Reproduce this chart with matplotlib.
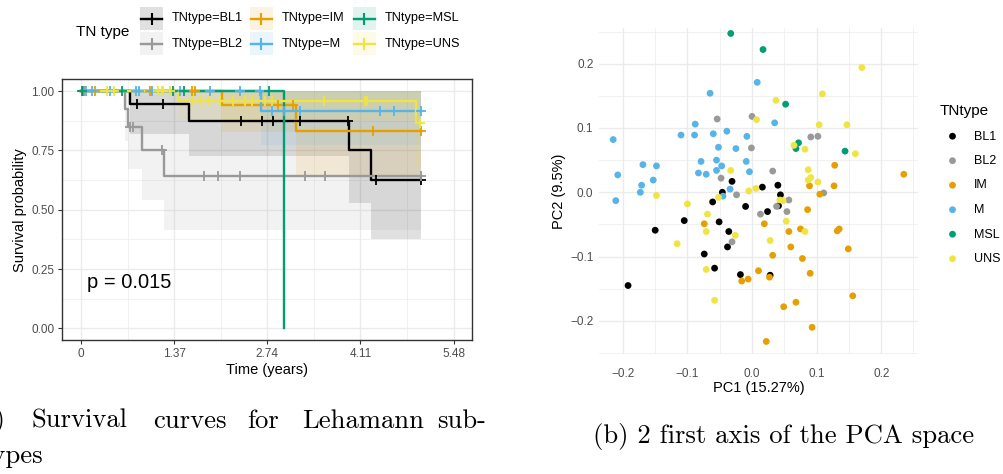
import matplotlib
matplotlib.use('Agg')
import matplotlib.pyplot as plt
import numpy as np
from matplotlib.lines import Line2D
from matplotlib.patches import Rectangle
from matplotlib.ticker import FixedLocator

plt.rcParams['font.family'] = ['Liberation Sans', 'DejaVu Sans']

# ---------------- data ----------------
groups = ['BL1', 'BL2', 'IM', 'M', 'MSL', 'UNS']
colors = ['#000000', '#999999', '#E69F00', '#56B4E9', '#009E73', '#F0E442']

# Kaplan-Meier curves (event times, survival after each time, lower CI)
bl1_time = [0, 0.72, 1.585, 3.94, 4.26]
bl1_surv = [1.0, 0.944, 0.875, 0.751, 0.626]
bl1_lower = [1.0, 0.82, 0.725, 0.528, 0.377]
bl1_end = 5.00
bl1_cens = [0.03, 0.82, 1.20, 2.35, 2.66, 2.83, 3.22, 3.93, 4.34, 5.00]

bl2_time = [0, 0.647, 0.687, 0.893, 1.22]
bl2_surv = [1.0, 0.923, 0.847, 0.752, 0.643]
bl2_lower = [1.0, 0.79, 0.672, 0.542, 0.413]
bl2_end = 5.00
bl2_cens = [0.05, 0.72, 0.77, 1.19, 1.81, 2.02, 2.34, 3.30, 3.59, 5.00]

im_time = [0, 2.07, 3.16]
im_surv = [1.0, 0.941, 0.833]
im_lower = [1.0, 0.829, 0.647]
im_end = 5.00
im_cens = [0.21, 1.02, 1.63, 1.68, 2.90, 3.12, 4.30, 5.00]

m_time = [0, 2.65]
m_surv = [1.0, 0.917]
m_lower = [1.0, 0.773]
m_end = 5.00
m_cens = [0.08, 0.16, 0.43, 0.81, 0.86, 1.05, 1.46, 1.90, 2.34, 2.63,
          2.81, 2.98, 3.22, 4.40, 4.61, 5.00]

msl_time = [0, 2.99]
msl_surv = [1.0, 0.0]
msl_lower = [1.0, 0.0]
msl_end = 2.99
msl_cens = [0.01, 0.60, 1.36, 1.51, 2.76]

uns_time = [0, 1.43, 4.93]
uns_surv = [1.0, 0.958, 0.864]
uns_lower = [1.0, 0.881, 0.68]
uns_end = 4.99
uns_cens = [0.38, 0.48, 1.14, 1.19, 1.21, 1.31, 1.63, 1.75, 1.87, 2.05,
            2.24, 2.41, 2.51, 2.71, 2.81, 3.58, 4.18, 4.20, 4.99]

km = {
    'BL1': (bl1_time, bl1_surv, bl1_lower, bl1_end, bl1_cens),
    'BL2': (bl2_time, bl2_surv, bl2_lower, bl2_end, bl2_cens),
    'IM': (im_time, im_surv, im_lower, im_end, im_cens),
    'M': (m_time, m_surv, m_lower, m_end, m_cens),
    'MSL': (msl_time, msl_surv, msl_lower, msl_end, msl_cens),
    'UNS': (uns_time, uns_surv, uns_lower, uns_end, uns_cens),
}

time_ticks = [0, 1.37, 2.74, 4.11, 5.48]
time_labels = ['0', '1.37', '2.74', '4.11', '5.48']
surv_ticks = [0.0, 0.25, 0.5, 0.75, 1.0]
p_value_text = 'p = 0.015'

# PCA scores
bl1_pc1 = [-0.031, -0.046, 0.016, 0.040, 0.044, 0.041, -0.010, 0.024, 0.028, -0.018,
           -0.061, -0.105, -0.051, -0.150, -0.036, -0.038, -0.074, -0.058, -0.192]
bl1_pc2 = [0.017, 0.000, 0.008, 0.011, -0.004, -0.021, -0.022, -0.030, -0.129, -0.128,
           -0.015, -0.044, -0.046, -0.059, -0.061, -0.085, -0.096, -0.118, -0.145]
bl2_pc1 = [-0.054, -0.048, -0.024, -0.000, 0.091, 0.102, -0.001, 0.032, 0.111, 0.057,
           0.038, 0.013, 0.054, -0.031]
bl2_pc2 = [0.114, 0.022, -0.004, 0.118, 0.086, 0.087, 0.069, 0.033, -0.001, -0.012,
           -0.022, -0.034, -0.030, -0.077]
im_pc1 = [0.128, 0.235, 0.089, 0.127, 0.105, 0.086, 0.019, 0.057, 0.075, 0.132,
          0.135, 0.060, 0.149, 0.032, 0.078, 0.010, 0.090, 0.027, -0.006, -0.016,
          0.156, 0.068, 0.049, 0.093, 0.022, -0.074]
im_pc2 = [0.042, 0.028, 0.010, 0.010, -0.003, -0.027, -0.049, -0.061, -0.057, -0.060,
          -0.057, -0.085, -0.088, -0.098, -0.103, -0.122, -0.126, -0.132, -0.135, -0.138,
          -0.161, -0.171, -0.178, -0.210, -0.232, -0.049]
m_pc1 = [-0.065, -0.215, -0.208, -0.169, -0.148, -0.171, -0.153, -0.173, -0.211, -0.110,
         -0.088, -0.089, -0.060, -0.039, -0.052, -0.025, -0.079, -0.055, -0.047, -0.083,
         -0.071, -0.055, -0.034, 0.008, 0.035, -0.008, -0.009, -0.004, -0.045]
m_pc2 = [0.154, 0.082, 0.027, 0.043, 0.041, 0.011, 0.019, 0.000, -0.013, 0.089,
         0.106, 0.089, 0.091, 0.095, 0.070, 0.068, 0.048, 0.050, 0.041, 0.030,
         0.028, 0.034, 0.005, 0.171, 0.108, 0.087, 0.048, 0.032, -0.006]
msl_pc1 = [-0.033, 0.017, 0.052, 0.072, 0.068, 0.144]
msl_pc2 = [0.247, 0.222, 0.137, 0.077, 0.068, 0.064]
uns_pc1 = [-0.033, -0.148, 0.170, 0.109, 0.037, 0.007, 0.104, 0.147, 0.065, 0.082,
           0.160, 0.087, 0.091, 0.087, 0.102, 0.006, -0.005, 0.043, 0.048, 0.053,
           0.082, 0.028, -0.100, -0.052, -0.069, -0.071, -0.026, -0.116, -0.071, -0.058]
uns_pc2 = [0.034, -0.005, 0.194, 0.153, 0.143, 0.113, 0.105, 0.105, 0.073, 0.067,
           0.060, 0.035, 0.023, 0.019, 0.016, 0.006, 0.002, -0.012, -0.013, -0.045,
           -0.061, -0.075, -0.018, -0.008, -0.034, -0.061, -0.067, -0.080, -0.120, -0.168]

pca = {
    'BL1': (bl1_pc1, bl1_pc2), 'BL2': (bl2_pc1, bl2_pc2), 'IM': (im_pc1, im_pc2),
    'M': (m_pc1, m_pc2), 'MSL': (msl_pc1, msl_pc2), 'UNS': (uns_pc1, uns_pc2),
}

# ---------------- figure ----------------
W, H = 1004, 474
fig = plt.figure(figsize=(W / 100, H / 100), dpi=100)


def fbox(l, t, r, b):
    return [l / W, 1 - b / H, (r - l) / W, (b - t) / H]


def fx(px):
    return px / W


def fy(py):
    return 1 - py / H


GRID = '#EBEBEB'
TICKC = '#4D4D4D'

# ---- survival panel ----
ax1 = fig.add_axes(fbox(62.3, 79.3, 472.3, 340.3))
ax1.set_xlim(-0.274, 5.754)
ax1.set_ylim(-0.05, 1.05)

for g, c in zip(groups, colors):
    t, s, lo, end, cens = km[g]
    xs = list(t) + [end]
    lo_ext = list(lo) + [lo[-1]]
    ax1.fill_between(xs, lo_ext, [1.0] * len(xs), step='post', color=c,
                     alpha=0.12, lw=0, zorder=1)
for g, c in zip(groups, colors):
    t, s, lo, end, cens = km[g]
    xs = list(t) + [end]
    ys = list(s) + [s[-1]]
    ax1.step(xs, ys, where='post', color=c, lw=1.7, zorder=3)
    cy = [s[np.searchsorted(t, ct, side='right') - 1] for ct in cens]
    ax1.plot(cens, cy, ls='none', marker='+', ms=7, mew=1.3, color=c, zorder=4)

ax1.text(0.09, 0.192, p_value_text, fontsize=14.5, va='center', ha='left')
ax1.set_xticks(time_ticks)
ax1.set_xticklabels(time_labels)
ax1.set_yticks(surv_ticks)
ax1.set_yticklabels(['%.2f' % v for v in surv_ticks])
ax1.xaxis.set_minor_locator(FixedLocator([0.685, 2.055, 3.425, 4.795]))
ax1.yaxis.set_minor_locator(FixedLocator([0.125, 0.375, 0.625, 0.875]))
ax1.grid(which='major', color=GRID, lw=1.0, zorder=0)
ax1.grid(which='minor', color=GRID, lw=0.5, zorder=0)
ax1.set_axisbelow(True)
ax1.tick_params(which='major', length=3, color='#333333', labelsize=8.5,
                labelcolor=TICKC, width=0.8, pad=2.5)
ax1.tick_params(which='minor', length=0)
for sp in ax1.spines.values():
    sp.set_color('#333333')
    sp.set_linewidth(1.0)
ax1.set_xlabel('Time (years)', fontsize=10.5, labelpad=2.5)
ax1.set_ylabel('Survival probability', fontsize=10.5, labelpad=3)

# legend for survival (keys: CI fill square + line with censor mark)
key_left = [140, 250, 353]
key_top = [7, 32]
key_size = 23
for i, (g, c) in enumerate(zip(groups, colors)):
    col, row = i // 2, i % 2
    x0 = key_left[col]
    y0 = key_top[row]
    yc = y0 + key_size / 2
    fig.add_artist(Rectangle((fx(x0), fy(y0 + key_size)), key_size / W, key_size / H,
                             transform=fig.transFigure, facecolor=c, alpha=0.12, lw=0))
    fig.add_artist(Line2D([fx(x0 + 1), fx(x0 + key_size - 1)], [fy(yc), fy(yc)],
                          transform=fig.transFigure, color=c, lw=1.7))
    fig.add_artist(Line2D([fx(x0 + key_size / 2)], [fy(yc)], transform=fig.transFigure,
                          color=c, marker='+', ms=9, mew=1.5, ls='none'))
    fig.text(fx(x0 + 32), fy(yc), 'TNtype=' + g, fontsize=9.2, va='center', ha='left')
fig.text(fx(76), fy(32), 'TN type', fontsize=11, va='center', ha='left')

# ---- PCA panel ----
ax2 = fig.add_axes(fbox(599, 28, 918, 354))
for g, c in zip(groups, colors):
    px, py = pca[g]
    ax2.scatter(px, py, s=24, color=c, edgecolors='none', label=g, zorder=3)
ax2.set_xlim(-0.237, 0.257)
ax2.set_ylim(-0.2515, 0.2555)
ax2.set_xticks([-0.2, -0.1, 0.0, 0.1, 0.2])
ax2.set_yticks([-0.2, -0.1, 0.0, 0.1, 0.2])
ax2.xaxis.set_minor_locator(FixedLocator([-0.15, -0.05, 0.05, 0.15, 0.25]))
ax2.yaxis.set_minor_locator(FixedLocator([-0.25, -0.15, -0.05, 0.05, 0.15, 0.25]))
ax2.grid(which='major', color=GRID, lw=1.0, zorder=0)
ax2.grid(which='minor', color=GRID, lw=0.5, zorder=0)
ax2.set_axisbelow(True)
for sp in ax2.spines.values():
    sp.set_visible(False)
ax2.tick_params(which='both', length=0, labelsize=8.5, labelcolor=TICKC)
ax2.tick_params(axis='x', pad=10)
ax2.tick_params(axis='y', pad=4)
ax2.set_xlabel('PC1 (15.27%)', fontsize=10.5, labelpad=1)
ax2.set_ylabel('PC2 (9.5%)', fontsize=10.5, labelpad=3)
leg2 = ax2.legend(title='TNtype', loc='upper left', bbox_to_anchor=(940 / W, 1 - 104 / H),
                  bbox_transform=fig.transFigure, frameon=False, fontsize=9,
                  title_fontsize=11, markerscale=1.0, handletextpad=0.75,
                  labelspacing=1.0, borderpad=0, borderaxespad=0)
leg2._legend_box.align = 'left'

# ---- captions ----
cap = dict(family='cmr10', fontsize=19.2, va='center')
fig.text(fx(5.5), fy(421), '(a)', ha='right', **cap)
fig.text(fx(31.7), fy(421), 'Survival', ha='left', **cap)
fig.text(fx(153), fy(421), 'curves', ha='left', **cap)
fig.text(fx(247), fy(421), 'for', ha='left', **cap)
fig.text(fx(302), fy(421), 'Lehamann', ha='left', **cap)
fig.text(fx(437), fy(421), 'sub-', ha='left', **cap)
fig.text(fx(43), fy(456), 'types', ha='right', **cap)
fig.text(fx(784), fy(437), '(b) 2 first axis of the PCA space', ha='center', **cap)

fig.savefig('out.png', dpi=100)
